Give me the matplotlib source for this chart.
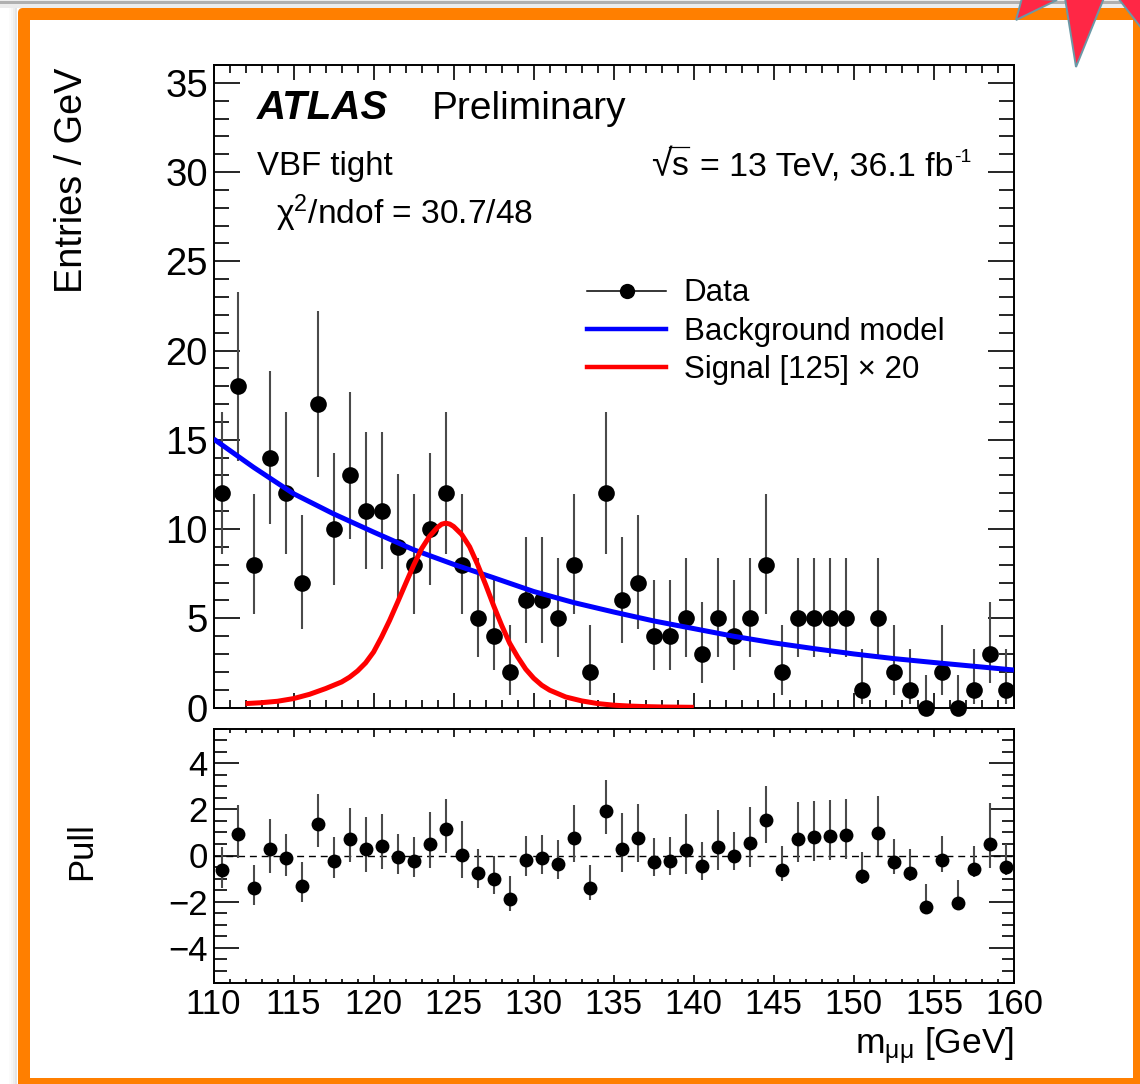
import matplotlib
matplotlib.use('Agg')
import matplotlib.pyplot as plt
from matplotlib.lines import Line2D
from matplotlib.patches import FancyBboxPatch, Polygon, Rectangle
from matplotlib.ticker import MultipleLocator, FixedLocator

plt.rcParams['font.family'] = ['Liberation Sans', 'DejaVu Sans']
plt.rcParams['mathtext.fontset'] = 'custom'
plt.rcParams['mathtext.rm'] = 'Liberation Sans'
plt.rcParams['mathtext.it'] = 'Liberation Sans'
plt.rcParams['mathtext.bf'] = 'Liberation Sans:bold'
plt.rcParams['mathtext.default'] = 'regular'

bin_centers = [110.5, 111.5, 112.5, 113.5, 114.5, 115.5, 116.5, 117.5, 118.5, 119.5,
               120.5, 121.5, 122.5, 123.5, 124.5, 125.5, 126.5, 127.5, 128.5, 129.5,
               130.5, 131.5, 132.5, 133.5, 134.5, 135.5, 136.5, 137.5, 138.5, 139.5,
               140.5, 141.5, 142.5, 143.5, 144.5, 145.5, 146.5, 147.5, 148.5, 149.5,
               150.5, 151.5, 152.5, 153.5, 154.5, 155.5, 156.5, 157.5, 158.5, 159.5]
entries = [12, 18, 8, 14, 12, 7, 17, 10, 13, 11,
           11, 9, 8, 10, 12, 8, 5, 4, 2, 6,
           6, 5, 8, 2, 12, 6, 7, 4, 4, 5,
           3, 5, 4, 5, 8, 2, 5, 5, 5, 5,
           1, 5, 2, 1, 0, 2, 0, 1, 3, 1]
entries_down = [3.41, 4.20, 2.77, 3.70, 3.41, 2.58, 4.10, 3.11, 3.57, 3.26,
                3.26, 2.94, 2.77, 3.11, 3.41, 2.77, 2.16, 1.91, 1.29, 2.38,
                2.38, 2.16, 2.77, 1.29, 3.41, 2.38, 2.58, 1.91, 1.91, 2.16,
                1.63, 2.16, 1.91, 2.16, 2.77, 1.29, 2.16, 2.16, 2.16, 2.16,
                0.83, 2.16, 1.29, 0.83, 0.00, 1.29, 0.00, 0.83, 1.63, 0.83]
entries_up = [4.56, 5.30, 3.95, 4.83, 4.56, 3.77, 5.20, 4.26, 4.70, 4.41,
              4.41, 4.11, 3.95, 4.26, 4.56, 3.95, 3.38, 3.16, 2.64, 3.58,
              3.58, 3.38, 3.95, 2.64, 4.56, 3.58, 3.77, 3.16, 3.16, 3.38,
              2.92, 3.38, 3.16, 3.38, 3.95, 2.64, 3.38, 3.38, 3.38, 3.38,
              2.30, 3.38, 2.64, 2.30, 1.84, 2.64, 1.84, 2.30, 2.92, 2.30]

pull = [-0.62, 0.91, -1.42, 0.28, -0.10, -1.30, 1.36, -0.23, 0.71, 0.30,
        0.41, -0.06, -0.23, 0.48, 1.13, 0.04, -0.75, -1.03, -1.88, -0.19,
        -0.12, -0.35, 0.75, -1.41, 1.93, 0.30, 0.75, -0.29, -0.22, 0.23,
        -0.45, 0.38, 0.00, 0.52, 1.55, -0.61, 0.71, 0.78, 0.83, 0.88,
        -0.87, 0.99, -0.29, -0.74, -2.25, -0.19, -2.07, -0.57, 0.48, -0.49]
pull_top = [0.38, 2.19, -0.42, 1.58, 0.91, -0.30, 2.65, 0.78, 2.04, 1.65,
            1.78, 0.94, 0.78, 1.87, 2.46, 1.49, 0.26, -0.01, -0.87, 0.83,
            0.90, 0.67, 2.19, -0.41, 3.26, 1.84, 2.23, 0.74, 0.80, 1.81,
            0.57, 1.97, 1.01, 2.12, 3.00, 0.41, 2.30, 2.36, 2.42, 2.46,
            0.14, 2.57, 0.72, 0.29, -1.23, 0.83, -1.07, 0.43, 2.29, 0.49]
pull_bottom = [-1.39, -0.10, -2.13, -0.75, -0.87, -2.01, 0.35, -0.97, -0.30, -0.72,
               -0.59, -0.80, -0.94, -0.54, 0.10, -0.96, -1.41, -1.65, -2.39, -0.87,
               -0.80, -1.00, -0.28, -1.91, 0.91, -0.70, -0.28, -0.90, -0.84, -0.80,
               -1.06, -0.64, -0.64, -0.49, 0.52, -1.12, -0.30, -0.25, -0.19, -0.13,
               -1.25, -0.03, -0.80, -1.10, -2.25, -0.70, -2.07, -0.94, -0.54, -0.86]

bkg_x = [110, 112.5, 115, 117.5, 120, 122.5, 125, 127.5, 130, 132.5, 135, 137.5, 140,
         142.5, 145, 147.5, 150, 152.5, 155, 157.5, 160]
bkg_y = [15.05, 13.46, 11.98, 10.85, 9.83, 8.84, 8.02, 7.27, 6.50, 5.88, 5.35, 4.85, 4.42,
         3.99, 3.62, 3.30, 3.00, 2.74, 2.52, 2.31, 2.10]

sig_x = [112, 113, 114, 115, 116, 117, 118, 118.5, 119, 119.5, 120, 120.5, 121, 121.5, 122, 122.5,
         123, 123.5, 124, 124.25, 124.5, 124.75, 125, 125.5, 126, 126.5, 127, 127.5, 128, 128.5,
         129, 129.5, 130, 130.5, 131, 132, 133, 134, 135, 136, 137, 138, 139, 140]
sig_y = [0.22, 0.27, 0.35, 0.50, 0.74, 1.06, 1.43, 1.70, 2.05, 2.50, 3.11, 3.95, 4.88, 5.90, 6.94, 7.97,
         8.90, 9.60, 10.10, 10.27, 10.33, 10.28, 10.14, 9.70, 9.00, 8.00, 6.88, 5.70, 4.60, 3.60,
         2.83, 2.15, 1.64, 1.25, 0.97, 0.59, 0.37, 0.22, 0.13, 0.08, 0.05, 0.03, 0.02, 0.01]

W, H = 1140, 1084
fig = plt.figure(figsize=(W / 100, H / 100), dpi=100, facecolor='white')


def px_axes(left, top, right, bottom):
    return fig.add_axes([left / W, 1 - bottom / H, (right - left) / W, (bottom - top) / H])


def px_text(x, y, s, **kw):
    fig.text(x / W, 1 - y / H, s, va=kw.pop('va', 'baseline'), **kw)


# screenshot surroundings
bg = fig.add_axes([0, 0, 1, 1], zorder=-1)
bg.set_xlim(0, W)
bg.set_ylim(H, 0)
bg.axis('off')
bg.add_patch(Rectangle((0, 0), W, 7.5, color='#ececec', lw=0))
bg.add_patch(Rectangle((0, 1), W, 3, color='#b0b0b0', lw=0))
for i, c in enumerate(['#fbfbfb', '#f6f6f6', '#eeeeee', '#e4e4e4']):
    bg.add_patch(Rectangle((9 + i * 2, 8), 2, H, color=c, lw=0))
bg.add_patch(FancyBboxPatch((18, 8), 1200, 1200, boxstyle='round,pad=0,rounding_size=5',
                            fc='#ff7f00', ec='none'))
bg.add_patch(Rectangle((29.5, 19.5), 1103.5, 1058, color='white', lw=0))
star_red = '#ff2745'
star_edge = '#6b98a6'
for pts in ([(1022, -2), (1016, 20), (1057, 0)],
            [(1065, -2), (1076, 67), (1104, -2)],
            [(1118, -2), (1142, 29), (1142, -2)]):
    bg.add_patch(Polygon(pts, closed=True, fc=star_red, ec=star_edge, lw=1.4))

ax = px_axes(213.5, 65, 1014, 707.5)
ax2 = px_axes(213.5, 728.5, 1014, 982.5)

# top panel
ax.errorbar(bin_centers, entries, yerr=[entries_down, entries_up], fmt='o', color='black',
            ecolor='#4a4a4a', elinewidth=1.5, ms=12, mew=0, clip_on=False, zorder=3)
ax.plot(bkg_x, bkg_y, color='#0000ff', lw=3.6, zorder=4, solid_capstyle='butt')
ax.plot(sig_x, sig_y, color='#ff0000', lw=3.6, zorder=5, solid_capstyle='butt')
ax.set_xlim(110, 160)
ax.set_ylim(0, 36)

# bottom panel
low = [p - b for p, b in zip(pull, pull_bottom)]
high = [t - p for p, t in zip(pull, pull_top)]
ax2.errorbar(bin_centers, pull, yerr=[low, high], fmt='o', color='black', ecolor='#4a4a4a',
             elinewidth=1.5, ms=10, mew=0, zorder=3)
ax2.axhline(0, color='black', lw=1.0, dashes=(5, 3.5), zorder=2)
ax2.set_xlim(110, 160)
ax2.set_ylim(-5.5, 5.5)

for a in (ax, ax2):
    for s in a.spines.values():
        s.set_linewidth(1.4)
    a.xaxis.set_major_locator(MultipleLocator(5))
    a.xaxis.set_minor_locator(MultipleLocator(1))
    a.tick_params(which='both', direction='in', top=True, right=True, width=1.2)

ax.yaxis.set_major_locator(MultipleLocator(5))
ax.yaxis.set_minor_locator(MultipleLocator(1))
ax.tick_params(axis='x', which='major', length=11, labelbottom=False)
ax.tick_params(axis='x', which='minor', length=5.5)
ax.tick_params(axis='y', which='major', length=19, labelsize=27.5, pad=4)
ax.tick_params(axis='y', which='minor', length=10.5)

ax2.yaxis.set_major_locator(FixedLocator([-4, -2, 0, 2, 4]))
ax2.yaxis.set_minor_locator(MultipleLocator(0.5))
ax2.tick_params(axis='x', which='major', length=6, labelsize=25, pad=4)
ax2.tick_params(axis='x', which='minor', length=3)
ax2.tick_params(axis='y', which='major', length=18, labelsize=25, pad=4)
ax2.tick_params(axis='y', which='minor', length=9)

# labels
px_text(82, 68, 'Entries / GeV', rotation=90, ha='right', fontsize=27.3, rotation_mode='anchor')
px_text(91, 880, 'Pull', rotation=90, ha='left', fontsize=25, rotation_mode='anchor')
px_text(1014, 1053, r'm$_{\mu\mu}$ [GeV]', ha='right', fontsize=25.5)

# annotations
px_text(257, 119, 'ATLAS', fontsize=29, fontweight='bold', fontstyle='italic')
px_text(432, 119, 'Preliminary', fontsize=28)
px_text(257, 175, 'VBF tight', fontsize=23.8)
px_text(276, 224, 'χ$^{2}$/ndof = 30.7/48', fontsize=24.1)
px_text(672, 176, '√', ha='right', fontsize=27)
px_text(671, 175, 's', fontsize=24.4)
px_text(953, 175, '= 13 TeV, 36.1 fb', ha='right', fontsize=24.4)
px_text(954, 162, '-1', fontsize=14)
# overbar of the square root
fig.add_artist(Line2D([669 / W, 689 / W], [1 - 146.5 / H, 1 - 146.5 / H], color='black', lw=0.9))

handles = [Line2D([], [], color='black', lw=1.1, marker='o', ms=11, mew=0),
           Line2D([], [], color='#0000ff', lw=3.2),
           Line2D([], [], color='#ff0000', lw=3.2)]
ax.legend(handles, ['Data', 'Background model', 'Signal [125] × 20'], loc='upper left',
          bbox_to_anchor=((587 - 213.5) / 800.5, 1 - (278.5 - 65) / 642.5), frameon=False,
          fontsize=22.5, handlelength=2.53, handletextpad=0.57, labelspacing=0.27,
          borderpad=0, borderaxespad=0)

plt.savefig('out.png', dpi=100)
